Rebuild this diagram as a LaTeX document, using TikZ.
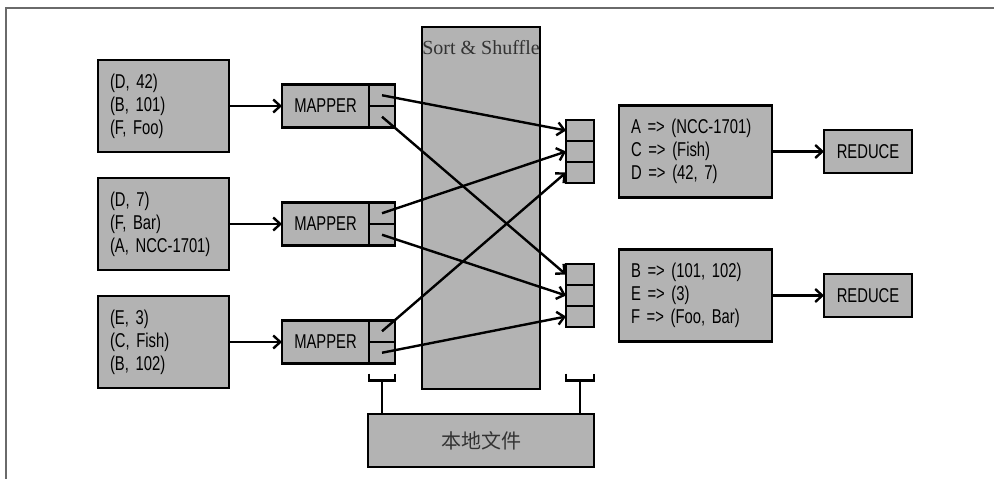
\documentclass[tikz,border=0pt]{standalone}
\usepackage{fontspec}
\setsansfont{Liberation Sans}[FakeStretch=0.74]
\newfontfamily\sortfont{Liberation Serif}
\newfontfamily\cjkfont{Noto Sans CJK SC}
\usepackage{tikz}
\usetikzlibrary{arrows.meta,positioning,calc}
\definecolor{BoxGray}{HTML}{B3B3B3}
\definecolor{FrameGray}{HTML}{6A6A6A}
\definecolor{InkGray}{HTML}{333333}

\begin{document}
\begin{tikzpicture}[
  x=1pt,y=-1pt,
  every node/.style={font=\sffamily\fontsize{20}{23}\selectfont},
  box/.style={draw,fill=BoxGray,line width=2.4pt,inner sep=0pt,outer sep=0pt},
  pairs/.style={box,minimum width=131pt,minimum height=92pt,text width=107pt,align=left},
  groups/.style={box,minimum width=153pt,minimum height=92pt,text width=129pt,align=left},
  mapbox/.style={box,minimum width=87pt,minimum height=43pt},
  cell/.style={box,minimum width=26pt,minimum height=21.5pt},
  slot/.style={box,minimum width=28pt,minimum height=21pt},
  redbox/.style={box,minimum width=88pt,minimum height=43pt},
  arr/.style={-{Straight Barb[length=7pt,width=13pt]},line width=2.4pt},
  wire/.style={line width=2.4pt}
]
\useasboundingbox (0,0) rectangle (994,479);
\draw[FrameGray,line width=1.5pt] (6,479) -- (6,8) -- (994,8);

% map side
\node[pairs,anchor=north west] (in1) at (98,60) {(D, 42)\\(B, 101)\\(F, Foo)};
\node[pairs,below=26pt of in1] (in2) {(D, 7)\\(F, Bar)\\(A, NCC-1701)};
\node[pairs,below=26pt of in2] (in3) {(E, 3)\\(C, Fish)\\(B, 102)};
\node[mapbox,right=53pt of in1] (m1) {MAPPER};
\node[cell,anchor=north west] (m1a) at (m1.north east) {};
\node[cell,anchor=north west] (m1b) at (m1a.south west) {};
\node[mapbox,right=53pt of in2] (m2) {MAPPER};
\node[cell,anchor=north west] (m2a) at (m2.north east) {};
\node[cell,anchor=north west] (m2b) at (m2a.south west) {};
\node[mapbox,right=53pt of in3] (m3) {MAPPER};
\node[cell,anchor=north west] (m3a) at (m3.north east) {};
\node[cell,anchor=north west] (m3b) at (m3a.south west) {};

% shuffle
\node[box,minimum width=118pt,minimum height=362pt,anchor=north west] (sort) at (422,27) {};
\node[font=\sortfont\fontsize{20}{24}\selectfont,text=InkGray,anchor=base] (sortlbl) at ($(sort.north)+(0,27)$) {Sort \& Shuffle};
\node[slot,anchor=north west] (c1a) at (566,120) {};
\node[slot,below=0pt of c1a] (c1b) {};
\node[slot,below=0pt of c1b] (c1c) {};
\node[slot,anchor=north west] (c2a) at (566,264) {};
\node[slot,below=0pt of c2a] (c2b) {};
\node[slot,below=0pt of c2b] (c2c) {};

% reduce side
\node[groups,right=25pt of c1b] (g1) {A => (NCC-1701)\\C => (Fish)\\D => (42, 7)};
\node[groups,right=25pt of c2b] (g2) {B => (101, 102)\\E => (3)\\F => (Foo, Bar)};
\node[redbox,right=52pt of g1] (red1) {REDUCE};
\node[redbox,right=52pt of g2] (red2) {REDUCE};

\node[box,minimum width=226pt,minimum height=53pt,anchor=north west,font=\cjkfont\fontsize{20}{24}\selectfont,text=InkGray] (store) at (368,414) {本地文件};

\draw[arr] (in1.east) -- (m1.west);
\draw[arr] (in2.east) -- (m2.west);
\draw[arr] (in3.east) -- (m3.west);
\draw[arr] (m1a.center) -- (c1a.west);
\draw[arr] (m1b.center) -- (c2a.west);
\draw[arr] (m2a.center) -- (c1b.west);
\draw[arr] (m2b.center) -- (c2b.west);
\draw[arr] (m3a.center) -- (c1c.west);
\draw[arr] (m3b.center) -- (c2c.west);
\draw[arr] (g1.east) -- (red1.west);
\draw[arr] (g2.east) -- (red2.west);

% spills to local disk
\coordinate (mtap) at ($(m3b.south)+(0,17)$);
\coordinate (ctap) at (c2c.south |- mtap);
\draw[wire] ($(mtap)+(-13,-7)$) -- ++(0,7) -- ++(26,0) -- ++(0,-7);
\draw[wire] ($(ctap)+(-14,-7)$) -- ++(0,7) -- ++(28,0) -- ++(0,-7);
\draw[wire] (mtap) -- (mtap |- store.north);
\draw[wire] (ctap) -- (ctap |- store.north);
\end{tikzpicture}
\end{document}
